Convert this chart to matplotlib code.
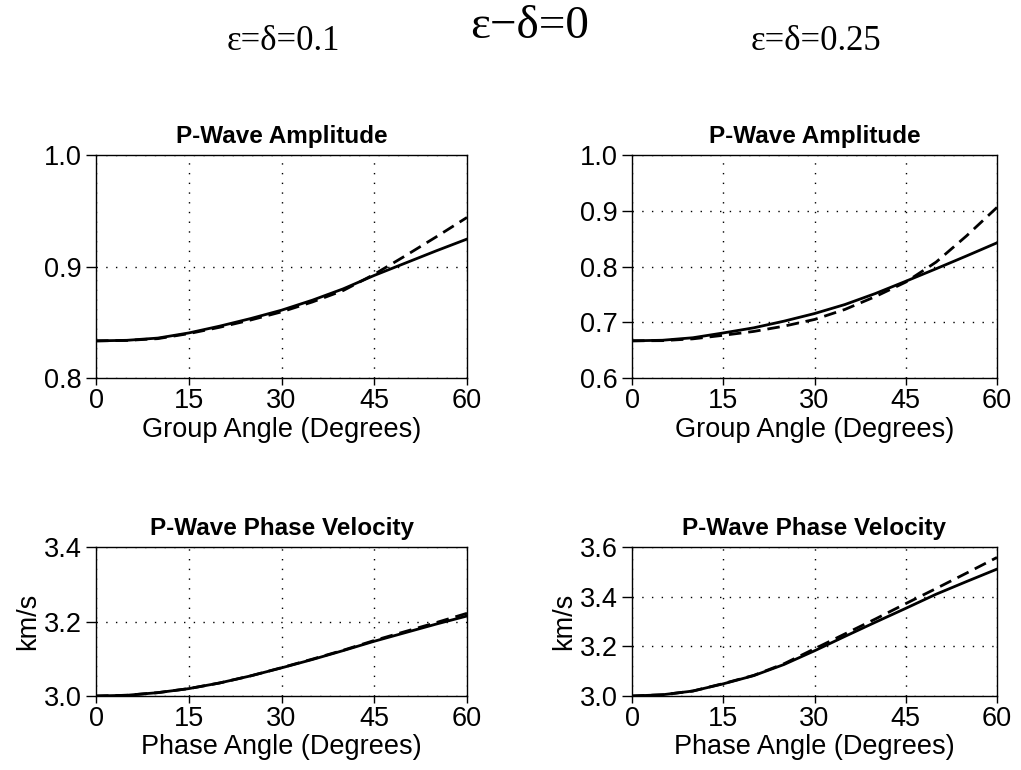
import numpy as np
import matplotlib
matplotlib.use('Agg')
import matplotlib.pyplot as plt

# angles (degrees) at which curves were read
angles = [0, 5, 10, 15, 20, 25, 30, 35, 40, 45, 50, 55, 60]

# eps=delta=0.1
amp_01_solid = [0.8333, 0.8338, 0.8358, 0.8404, 0.8465, 0.8533, 0.8608, 0.8698, 0.8800, 0.8920, 0.9030, 0.9140, 0.9246]
amp_01_dash = [0.8333, 0.8337, 0.8353, 0.8398, 0.8455, 0.8520, 0.8593, 0.8682, 0.8785, 0.8930, 0.9095, 0.9265, 0.9440]
vel_01_solid = [3.000, 3.002, 3.009, 3.0198, 3.035, 3.054, 3.0755, 3.098, 3.122, 3.147, 3.170, 3.193, 3.2148]
vel_01_dash = [3.000, 3.002, 3.009, 3.0198, 3.035, 3.054, 3.0760, 3.099, 3.123, 3.149, 3.173, 3.197, 3.222]

# eps=delta=0.25
amp_025_solid = [0.6667, 0.6677, 0.6722, 0.6808, 0.6900, 0.7020, 0.7156, 0.7318, 0.7515, 0.7735, 0.7960, 0.8190, 0.8425]
amp_025_dash = [0.6667, 0.6670, 0.6702, 0.6766, 0.6835, 0.6930, 0.7050, 0.7230, 0.7460, 0.7720, 0.8080, 0.8550, 0.9060]
vel_025_solid = [3.000, 3.005, 3.020, 3.049, 3.082, 3.127, 3.182, 3.240, 3.297, 3.353, 3.410, 3.461, 3.511]
vel_025_dash = [3.000, 3.005, 3.020, 3.050, 3.083, 3.130, 3.190, 3.250, 3.310, 3.372, 3.433, 3.495, 3.558]

xticks = [0, 15, 30, 45, 60]

plt.rcParams['font.family'] = ['Liberation Sans', 'DejaVu Sans']

fig = plt.figure(figsize=(10.21, 7.70), dpi=100)

W, H = 1021.0, 770.0
def box(l, r, t, b):
    return [l / W, 1 - b / H, (r - l) / W, (b - t) / H]

panels = [
    (box(96, 467, 155, 378), amp_01_solid, amp_01_dash, [0.8, 1.0], [0.8, 0.9, 1.0],
     'P-Wave Amplitude', 'Group Angle (Degrees)', None),
    (box(632, 997, 155, 378), amp_025_solid, amp_025_dash, [0.6, 1.0], [0.6, 0.7, 0.8, 0.9, 1.0],
     'P-Wave Amplitude', 'Group Angle (Degrees)', None),
    (box(96, 467, 547, 696), vel_01_solid, vel_01_dash, [3.0, 3.4], [3.0, 3.2, 3.4],
     'P-Wave Phase Velocity', 'Phase Angle (Degrees)', 'km/s'),
    (box(632, 997, 547, 696), vel_025_solid, vel_025_dash, [3.0, 3.6], [3.0, 3.2, 3.4, 3.6],
     'P-Wave Phase Velocity', 'Phase Angle (Degrees)', 'km/s'),
]

for rect, solid, dash, ylim, yticks, title, xlabel, ylabel in panels:
    ax = fig.add_axes(rect)
    ax.plot(angles, solid, 'k-', lw=2.0)
    ax.plot(angles, dash, 'k--', lw=2.0, dashes=(4.5, 2.5))
    ax.set_xlim(0, 60)
    ax.set_ylim(ylim)
    ax.set_xticks(xticks)
    ax.set_yticks(yticks)
    ax.set_yticklabels(['%.1f' % v for v in yticks])
    ax.grid(True, color='k', lw=1.0, linestyle=(0, (1, 6)))
    ax.tick_params(axis='both', direction='out', labelsize=19.5, width=1.0)
    ax.tick_params(axis='y', length=7, pad=3)
    ax.tick_params(axis='x', length=5, pad=2)
    for s in ax.spines.values():
        s.set_linewidth(1.0)
    ax.set_title(title, fontsize=17.5, fontweight='bold', pad=9)
    ax.set_xlabel(xlabel, fontsize=19.5, labelpad=2)
    if ylabel:
        ax.set_ylabel(ylabel, fontsize=19.5, labelpad=2)

serif = ['Liberation Serif', 'DejaVu Serif']
fig.text(530 / W, 1 - 27 / H, 'ε−δ=0', fontsize=34, family=serif, ha='center', va='center')
fig.text(283 / W, 1 - 41 / H, 'ε=δ=0.1', fontsize=25, family=serif, ha='center', va='center')
fig.text(816 / W, 1 - 41 / H, 'ε=δ=0.25', fontsize=25, family=serif, ha='center', va='center')

fig.savefig('out.png', dpi=100)
